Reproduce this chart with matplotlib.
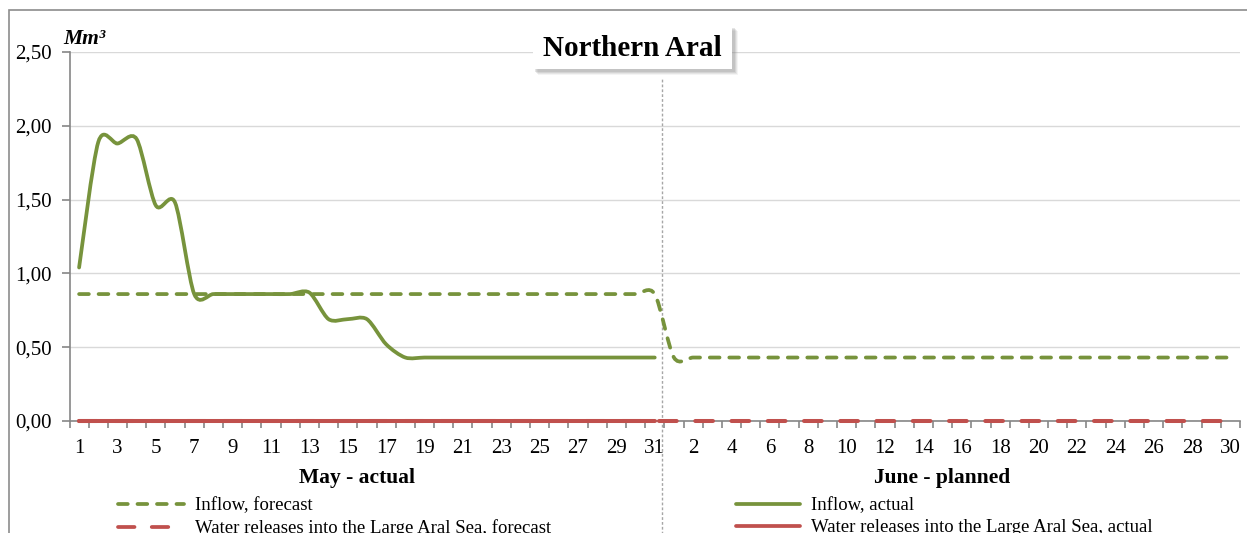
import numpy as np
import matplotlib.pyplot as plt
import matplotlib.transforms as mtransforms
from matplotlib.path import Path
from matplotlib.patches import PathPatch, Rectangle
from matplotlib.lines import Line2D

plt.rcParams['font.family'] = ['Liberation Serif', 'DejaVu Serif']

# data: 31 days of May (actual) followed by 30 days of June (planned)
may_days = list(range(1, 32))
june_days = list(range(1, 31))
day_labels = [str(d) for d in may_days] + [str(d) for d in june_days]

inflow_actual = [1.04, 1.89, 1.88, 1.91, 1.46, 1.48, 0.86, 0.86, 0.86, 0.86,
                 0.86, 0.86, 0.87, 0.69, 0.69, 0.69, 0.52, 0.43, 0.43, 0.43,
                 0.43, 0.43, 0.43, 0.43, 0.43, 0.43, 0.43, 0.43, 0.43, 0.43,
                 0.43]
inflow_forecast = [0.86] * 31 + [0.43] * 30
releases_forecast = [0.0] * 61
releases_actual = [0.0] * 31

GREEN = '#77933C'
RED = '#C0504D'
W, H = 1247, 533


def smooth_path(ys, k=7.0):
    # Excel-like smoothed line: cubic bezier segments through every point
    pts = np.column_stack([np.arange(len(ys)), ys]).astype(float)
    n = len(pts)
    verts, codes = [pts[0]], [Path.MOVETO]
    for i in range(n - 1):
        p0, p1 = pts[max(i - 1, 0)], pts[i]
        p2, p3 = pts[i + 1], pts[min(i + 2, n - 1)]
        verts += [p1 + (p2 - p0) / k, p2 - (p3 - p1) / k, p2]
        codes += [Path.CURVE4] * 3
    return Path(verts, codes)


fig = plt.figure(figsize=(W / 100, H / 100), dpi=100)
ax = fig.add_axes([69.5 / W, 1 - 421 / H, (1240 - 69.5) / W, (421 - 52) / H])

# outer chart frame (cropped on right/bottom)
fig.patches.append(Rectangle((9 / W, -0.1), 1.2, 1 - 10 / H + 0.1, transform=fig.transFigure,
                             fill=False, edgecolor='#8C8C8C', lw=1.2, zorder=0))

lw = 2.7
n = len(day_labels)
x_all = np.arange(n)

ax.plot(x_all, releases_forecast, color=RED, lw=lw + 0.2, linestyle=(0, (4.4, 4.6)),
        solid_capstyle='round', dash_capstyle='round', zorder=7, clip_on=False)
ax.plot(np.arange(len(releases_actual)), releases_actual, color=RED, lw=lw + 0.2,
        solid_capstyle='round', zorder=8, clip_on=False)
ax.add_patch(PathPatch(smooth_path(inflow_forecast), fill=False, edgecolor=GREEN, lw=lw,
                       linestyle=(0, (2.6, 2.6)), capstyle='round', zorder=5))
ax.add_patch(PathPatch(smooth_path(inflow_actual), fill=False, edgecolor=GREEN, lw=lw,
                       capstyle='round', zorder=6))

ax.set_xlim(-0.5, n - 0.5)
ax.set_ylim(0, 2.5)
ax.set_yticks(np.arange(0, 2.51, 0.5))
ax.set_yticklabels([f'{v:.2f}'.replace('.', ',') for v in np.arange(0, 2.51, 0.5)])
ax.set_xticks(x_all[::2])
ax.set_xticklabels(day_labels[::2])
ax.set_xticks(np.arange(-0.5, n, 1), minor=True)
ax.tick_params(axis='x', which='major', length=0, pad=13, labelsize=15)
ax.tick_params(axis='x', which='minor', length=5, color='#868686', width=1.2)
ax.tick_params(axis='y', length=6, color='#868686', width=1.2, pad=7, labelsize=15)
ax.grid(axis='y', color='#D9D9D9', lw=1)
ax.set_axisbelow(True)
for s in ['top', 'right']:
    ax.spines[s].set_visible(False)
for s in ['left', 'bottom']:
    ax.spines[s].set_color('#868686')
    ax.spines[s].set_linewidth(1.2)

# month divider
blend = mtransforms.blended_transform_factory(ax.transData, ax.transAxes)
ax.add_line(Line2D([30.4, 30.4], [-0.35, 0.93], transform=blend, color='#A6A6A6',
                   lw=1, linestyle=(0, (2, 1.5)), clip_on=False, zorder=2))

# group labels
ax.text(14.5, -0.155, 'May - actual', transform=blend, ha='center', va='center',
        fontsize=15.5, fontweight='bold')
ax.text(45.0, -0.155, 'June - planned', transform=blend, ha='center', va='center',
        fontsize=15.5, fontweight='bold')

# unit label
fig.text(63 / W, 1 - 39 / H, 'Mm³', ha='left', va='center', fontsize=15.5,
         fontweight='bold', fontstyle='italic')

# title box with soft shadow
bx0, by0, bx1, by1 = 533, 25, 732, 69
for off, a in [(6, 0.08), (5, 0.12), (4, 0.16), (3, 0.2)]:
    fig.patches.append(Rectangle(((bx0 + off - 1) / W, 1 - (by1 + off) / H),
                                 (bx1 - bx0 + 1) / W, (by1 - by0) / H,
                                 transform=fig.transFigure, facecolor='#7F7F7F', alpha=a,
                                 edgecolor='none', zorder=8))
fig.patches.append(Rectangle((bx0 / W, 1 - by1 / H), (bx1 - bx0) / W, (by1 - by0) / H,
                             transform=fig.transFigure, facecolor='white',
                             edgecolor='none', zorder=9))
fig.text((bx0 + bx1) / 2 / W, 1 - 48 / H, 'Northern Aral', ha='center', va='center',
         fontsize=21, fontweight='bold', zorder=10)

# legend, two columns
h_if = Line2D([], [], color=GREEN, lw=lw, linestyle=(0, (2.6, 2.6)), dash_capstyle='round')
h_rf = Line2D([], [], color=RED, lw=lw, linestyle=(0, (4.4, 4.6)), dash_capstyle='round')
h_ia = Line2D([], [], color=GREEN, lw=lw, solid_capstyle='round')
h_ra = Line2D([], [], color=RED, lw=lw, solid_capstyle='round')
leg_kw = dict(loc='upper left', frameon=False, fontsize=13.5, handletextpad=0.6,
              labelspacing=0.28, borderaxespad=0, borderpad=0)
fig.legend([h_if, h_rf], ['Inflow, forecast', 'Water releases into the Large Aral Sea, forecast'],
           bbox_to_anchor=(118 / W, 1 - 497 / H), handlelength=3.5, **leg_kw)
fig.legend([h_ia, h_ra], ['Inflow, actual', 'Water releases into the Large Aral Sea, actual'],
           bbox_to_anchor=(736 / W, 1 - 497 / H), handlelength=3.4, **leg_kw)

fig.savefig('out.png', dpi=100)
